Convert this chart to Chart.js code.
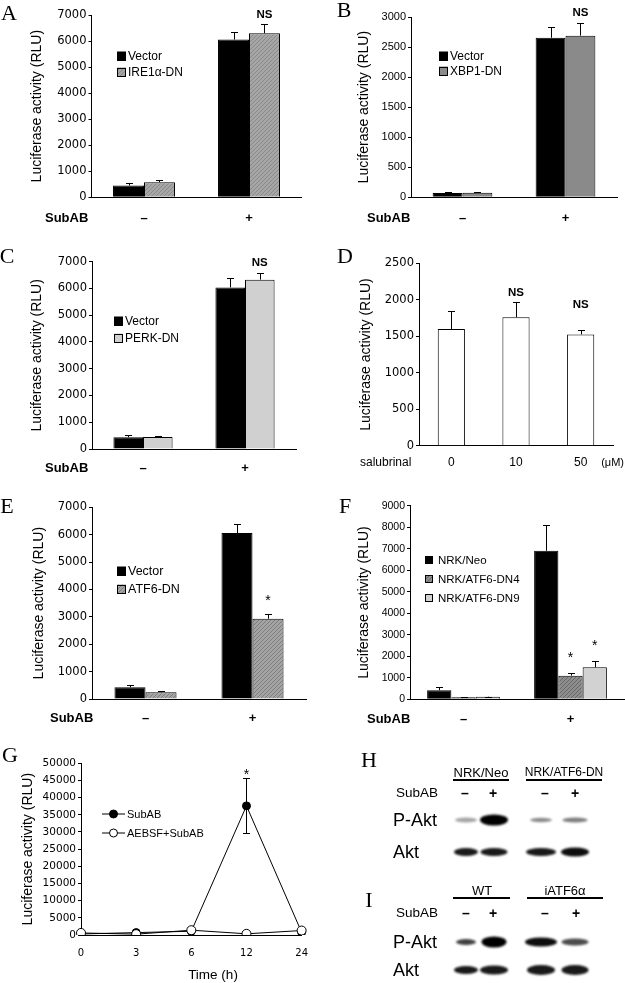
<!DOCTYPE html>
<html><head><meta charset="utf-8">
<script src="https://cdn.jsdelivr.net/npm/chart.js@4.4.1/dist/chart.umd.min.js"></script>
<style>
html,body{margin:0;padding:0;background:#fff;}
body{width:625px;height:983px;position:relative;overflow:hidden;font-family:"Liberation Sans",Arial,sans-serif;color:#000;}
canvas{position:absolute;display:block;}
.t{position:absolute;white-space:nowrap;line-height:1;transform:translate(-50%,-50%);}
.tl{position:absolute;white-space:nowrap;line-height:1;transform:translate(0,-50%);}
.ul{position:absolute;height:2px;background:#000;}
</style></head><body>
<script>
// ---------------- DATA ----------------
const subabCats = ['–', '+'];
const aVector = [450, 6060];   const aVectorErr = [90, 300];
const aIre1 = [580, 6300];     const aIre1Err = [90, 340];
const bVector = [70, 2655];    const bVectorErr = [15, 175];
const bXbp1 = [75, 2690];      const bXbp1Err = [15, 205];
const cVector = [440, 6040];   const cVectorErr = [100, 350];
const cPerk = [450, 6330];     const cPerkErr = [20, 260];
const dCats = ['0', '10', '50'];
const dSalubrinal = [1600, 1760, 1525]; const dSalubrinalErr = [240, 210, 65];
const eVector = [430, 6060];   const eVectorErr = [80, 320];
const eAtf6 = [250, 2930];     const eAtf6Err = [35, 185];
const fNeo = [420, 6905];      const fNeoErr = [160, 1195];
const fDn4 = [90, 1100];       const fDn4Err = [10, 110];
const fDn9 = [120, 1490];      const fDn9Err = [10, 305];
const gTimes = ['0', '3', '6', '12', '24'];
const gSubab = [300, 700, 1100, 37600, 800]; const gSubabErr = [0, 0, 0, 8000, 0];
const gAebsf = [600, 250, 1400, 350, 1300];
// blot band intensities (lanes: Neo/WT -, +, DN/iATF6 -, +)
const hPAkt = [0.35, 1.0, 0.45, 0.5];
const hAkt  = [0.9, 0.9, 0.9, 0.95];
const iPAkt = [0.75, 1.0, 0.95, 0.7];
const iAkt  = [0.9, 0.9, 0.9, 0.9];

// ---------------- HELPERS ----------------
const SANS = '"Liberation Sans", Arial, sans-serif';
const WIDE = '"DejaVu Sans", Verdana, sans-serif';
function hatch(bg, fg) {
  const c = document.createElement('canvas'); c.width = 4; c.height = 4;
  const x = c.getContext('2d'); x.fillStyle = bg; x.fillRect(0, 0, 4, 4);
  x.fillStyle = fg; for (let i = 0; i < 4; i++) x.fillRect(i, 3 - i, 1, 1);
  return x.createPattern(c, 'repeat');
}
const extras = new Map();

const errorBars = {
  id: 'errorBars',
  afterDatasetsDraw(chart) {
    const ctx = chart.ctx, ys = chart.scales.y;
    chart.data.datasets.forEach((ds, di) => {
      if (!ds.errUp) return;
      const meta = chart.getDatasetMeta(di);
      meta.data.forEach((el, j) => {
        const e = ds.errUp[j]; if (!e) return;
        const v = ds.data[j];
        const x = Math.round(el.x) + 0.5;
        const yT = Math.round(ys.getPixelForValue(v + e)) + 0.5;
        const yB = ds.errBoth ? Math.round(ys.getPixelForValue(v - e)) + 0.5 : ys.getPixelForValue(v);
        ctx.save(); ctx.strokeStyle = '#000'; ctx.lineWidth = 1;
        ctx.beginPath(); ctx.moveTo(x, yB); ctx.lineTo(x, yT);
        ctx.moveTo(x - 3.5, yT); ctx.lineTo(x + 3.5, yT);
        if (ds.errBoth) { ctx.moveTo(x - 3.5, yB); ctx.lineTo(x + 3.5, yB); }
        ctx.stroke(); ctx.restore();
      });
    });
  }
};

const overlay = {
  id: 'overlay',
  afterDraw(chart) {
    const ex = extras.get(chart.canvas); if (!ex) return;
    const ctx = chart.ctx, ox = ex.ox, oy = ex.oy;
    ctx.save(); ctx.fillStyle = '#000'; ctx.textBaseline = 'middle';
    (ex.texts || []).forEach(t => {
      ctx.font = t.font; ctx.textAlign = t.align || 'left';
      ctx.fillText(t.text, t.x - ox, t.y - oy);
    });
    (ex.marks || []).forEach(m => {
      const ds = chart.data.datasets[m.ds];
      const el = chart.getDatasetMeta(m.ds).data[m.i];
      const top = chart.scales.y.getPixelForValue(ds.data[m.i] + (ds.errUp ? ds.errUp[m.i] : 0));
      ctx.font = m.font; ctx.textAlign = 'center';
      ctx.fillText(m.text, el.x, top - m.dy);
    });
    if (ex.legend) {
      const L = ex.legend;
      chart.data.datasets.forEach((ds, i) => {
        const y = L.rows[i] - oy;
        ctx.fillStyle = ds.backgroundColor;
        ctx.fillRect(L.boxX - ox, y - L.box / 2, L.box, L.box);
        ctx.strokeStyle = '#000'; ctx.lineWidth = 1;
        ctx.strokeRect(L.boxX - ox + 0.5, Math.round(y - L.box / 2) + 0.5, L.box - 1, L.box - 1);
        ctx.fillStyle = '#000'; ctx.font = L.font; ctx.textAlign = 'left';
        ctx.fillText(ds.label, L.textX - ox, y + 0.5);
      });
    }
    if (ex.lineLegend) {
      const L = ex.lineLegend;
      chart.data.datasets.forEach((ds, i) => {
        const y = L.rows[i] - oy;
        ctx.strokeStyle = '#000'; ctx.lineWidth = 1;
        ctx.beginPath(); ctx.moveTo(L.x1 - ox, y); ctx.lineTo(L.x2 - ox, y); ctx.stroke();
        ctx.beginPath(); ctx.arc(L.mx - ox, y, 4, 0, Math.PI * 2);
        ctx.fillStyle = ds.pointBackgroundColor; ctx.fill(); ctx.stroke();
        ctx.fillStyle = '#000'; ctx.font = L.font; ctx.textAlign = 'left';
        ctx.fillText(ds.label, L.textX - ox, y + 0.5);
      });
    }
    ctx.restore();
  }
};

function mkPanel(cfg) {
  const {rect, area, titleX, type, labels, datasets, yMax, yStep} = cfg;
  const cv = document.createElement('canvas');
  cv.width = rect.w; cv.height = rect.h;
  cv.style.left = rect.x + 'px'; cv.style.top = rect.y + 'px';
  cv.style.width = rect.w + 'px'; cv.style.height = rect.h + 'px';
  document.body.appendChild(cv);
  const titleSize = cfg.titleSize || 14;
  const padL = titleX - rect.x - titleSize * 0.6;
  const padT = area.t - rect.y;
  const padR = rect.x + rect.w - area.r;
  const yW = area.l - rect.x - padL;
  const xH = rect.y + rect.h - area.b;
  extras.set(cv, Object.assign({ox: rect.x, oy: rect.y}, cfg.extra));
  return new Chart(cv, {
    type,
    data: {labels, datasets},
    options: {
      responsive: false, animation: false, devicePixelRatio: 1,
      events: [],
      layout: {padding: {left: padL, top: padT, right: padR, bottom: 0}},
      plugins: {legend: {display: false}, tooltip: {enabled: false}},
      scales: {
        x: {
          offset: cfg.offset,
          grid: {display: false, drawTicks: false},
          border: {display: true, color: '#000', width: 1},
          ticks: {color: '#000', font: cfg.xFont, padding: cfg.xPad, maxRotation: 0, autoSkip: false},
          afterFit: s => { s.height = xH; }
        },
        y: {
          min: 0, max: yMax,
          grid: {drawOnChartArea: false, drawTicks: true, tickLength: 3, color: '#000'},
          border: {display: true, color: '#000', width: 1},
          ticks: {stepSize: yStep, color: '#000', font: cfg.yFont, padding: 2, callback: v => String(v)},
          title: {display: true, text: 'Luciferase activity (RLU)', color: '#000', font: {family: SANS, size: titleSize}, padding: 0},
          afterFit: s => { s.width = yW; }
        }
      }
    },
    plugins: [errorBars, overlay]
  });
}

function bar(label, data, err, color, cp) {
  return {label, data, errUp: err, backgroundColor: color, borderColor: '#000', borderWidth: 1,
          barPercentage: 1, categoryPercentage: cp};
}
const pmFont = {family: SANS, size: 13, weight: 'bold'};
const wideTick = {family: WIDE, size: 11.5};
const narrowTick = {family: SANS, size: 11};
const subabFont = 'bold 13px ' + SANS;
const nsFont = 'bold 11.5px ' + SANS;
const starFont = '14px ' + SANS;

// ---------------- A ----------------
mkPanel({
  rect: {x: 0, y: 0, w: 310, h: 235}, area: {l: 91.5, t: 15, r: 301.5, b: 197.3}, titleX: 37,
  type: 'bar', labels: subabCats, yMax: 7000, yStep: 1000, offset: true,
  xFont: pmFont, xPad: 12.9, yFont: wideTick,
  datasets: [bar('Vector', aVector, aVectorErr, '#000', 0.59),
             bar('IRE1α-DN', aIre1, aIre1Err, hatch('#a6a6a6', '#8a8a8a'), 0.59)],
  extra: {
    texts: [{text: 'SubAB', x: 45, y: 218, font: subabFont}],
    marks: [{ds: 1, i: 1, text: 'NS', dy: 9.5, font: nsFont}],
    legend: {boxX: 117, textX: 128, box: 9, rows: [56, 72], font: '12px ' + SANS}
  }
});
// ---------------- B ----------------
mkPanel({
  rect: {x: 310, y: 0, w: 315, h: 235}, area: {l: 411, t: 17, r: 617, b: 197.3}, titleX: 364,
  type: 'bar', labels: subabCats, yMax: 3000, yStep: 500, offset: true,
  xFont: pmFont, xPad: 12.9, yFont: narrowTick,
  datasets: [bar('Vector', bVector, bVectorErr, '#000', 0.58),
             bar('XBP1-DN', bXbp1, bXbp1Err, '#8a8a8a', 0.58)],
  extra: {
    texts: [{text: 'SubAB', x: 367, y: 218, font: subabFont}],
    marks: [{ds: 1, i: 1, text: 'NS', dy: 10, font: nsFont}],
    legend: {boxX: 439, textX: 450, box: 9, rows: [56, 71], font: '12px ' + SANS}
  }
});
// ---------------- C ----------------
mkPanel({
  rect: {x: 0, y: 245, w: 310, h: 235}, area: {l: 92, t: 261.7, r: 296, b: 449}, titleX: 37,
  type: 'bar', labels: subabCats, yMax: 7000, yStep: 1000, offset: true,
  xFont: pmFont, xPad: 11.2, yFont: wideTick,
  datasets: [bar('Vector', cVector, cVectorErr, '#000', 0.58),
             bar('PERK-DN', cPerk, cPerkErr, '#d0d0d0', 0.58)],
  extra: {
    texts: [{text: 'SubAB', x: 45, y: 468, font: subabFont}],
    marks: [{ds: 1, i: 1, text: 'NS', dy: 9.5, font: nsFont}],
    legend: {boxX: 114, textX: 125, box: 9, rows: [321, 338], font: '12px ' + SANS}
  }
});
// ---------------- D ----------------
mkPanel({
  rect: {x: 310, y: 245, w: 315, h: 235}, area: {l: 419, t: 263.3, r: 613, b: 445.7}, titleX: 366,
  type: 'bar', labels: dCats, yMax: 2500, yStep: 500, offset: true,
  xFont: {family: SANS, size: 12}, xPad: 10.1, yFont: wideTick,
  datasets: [bar('salubrinal', dSalubrinal, dSalubrinalErr, '#fff', 0.42)],
  extra: {
    texts: [{text: 'salubrinal', x: 360, y: 463, font: '12px ' + SANS},
            {text: '(μM)', x: 624, y: 463, font: '11px ' + SANS, align: 'right'}],
    marks: [{ds: 0, i: 1, text: 'NS', dy: 9, font: nsFont},
            {ds: 0, i: 2, text: 'NS', dy: 25, font: nsFont}]
  }
});
// ---------------- E ----------------
mkPanel({
  rect: {x: 0, y: 495, w: 310, h: 240}, area: {l: 92, t: 507.3, r: 306, b: 699}, titleX: 39,
  type: 'bar', labels: subabCats, yMax: 7000, yStep: 1000, offset: true,
  xFont: pmFont, xPad: 11.2, yFont: wideTick,
  datasets: [bar('Vector', eVector, eVectorErr, '#000', 0.58),
             bar('ATF6-DN', eAtf6, eAtf6Err, hatch('#a4a4a4', '#7c7c7c'), 0.58)],
  extra: {
    texts: [{text: 'SubAB', x: 50, y: 718, font: subabFont}],
    marks: [{ds: 1, i: 1, text: '*', dy: 12.7, font: starFont}],
    legend: {boxX: 117, textX: 128, box: 9, rows: [571, 589], font: '12.5px ' + SANS}
  }
});
// ---------------- F ----------------
mkPanel({
  rect: {x: 310, y: 495, w: 315, h: 240}, area: {l: 410, t: 505.7, r: 624, b: 699.3}, titleX: 364,
  type: 'bar', labels: subabCats, yMax: 9000, yStep: 1000, offset: true,
  xFont: pmFont, xPad: 11.9, yFont: {family: SANS, size: 10.5},
  datasets: [bar('NRK/Neo', fNeo, fNeoErr, '#000', 0.68),
             bar('NRK/ATF6-DN4', fDn4, fDn4Err, hatch('#8e8e8e', '#666'), 0.68),
             bar('NRK/ATF6-DN9', fDn9, fDn9Err, '#d2d2d2', 0.68)],
  extra: {
    texts: [{text: 'SubAB', x: 367, y: 719, font: subabFont}],
    marks: [{ds: 1, i: 1, text: '*', dy: 15.5, font: starFont},
            {ds: 2, i: 1, text: '*', dy: 14.6, font: starFont}],
    legend: {boxX: 425, textX: 438, box: 8, rows: [560, 579, 598], font: '11.5px ' + SANS}
  }
});
// ---------------- G ----------------
mkPanel({
  rect: {x: 0, y: 740, w: 320, h: 243}, area: {l: 81, t: 763.3, r: 307, b: 935}, titleX: 28,
  type: 'line', labels: gTimes, yMax: 50000, yStep: 5000, offset: false,
  xFont: {family: WIDE, size: 10}, xPad: 12, yFont: {family: WIDE, size: 10.5},
  datasets: [
    {label: 'SubAB', data: gSubab, errUp: gSubabErr, errBoth: true, order: 2,
     borderColor: '#000', borderWidth: 1, tension: 0,
     pointRadius: 4, pointBackgroundColor: '#000', pointBorderColor: '#000', pointBorderWidth: 1},
    {label: 'AEBSF+SubAB', data: gAebsf, order: 1,
     borderColor: '#000', borderWidth: 1, tension: 0,
     pointRadius: 4.5, pointBackgroundColor: '#fff', pointBorderColor: '#000', pointBorderWidth: 1}
  ],
  extra: {
    texts: [{text: 'Time (h)', x: 213, y: 975, font: '13.5px ' + SANS, align: 'center'}],
    marks: [{ds: 0, i: 3, text: '*', dy: 3.3, font: starFont}],
    lineLegend: {x1: 102, x2: 125, mx: 113.5, textX: 127, rows: [814, 833], font: '11px ' + SANS}
  }
});

// ---------------- BLOTS (H, I) ----------------
(function () {
  const cv = document.createElement('canvas');
  cv.width = 315; cv.height = 243;
  cv.style.left = '310px'; cv.style.top = '740px';
  document.body.appendChild(cv);
  const ctx = cv.getContext('2d');
  const ox = 310, oy = 740;
  const lanes = [466, 494, 541, 575];
  function band(cx, cy, w, h, a) {
    ctx.save();
    ctx.filter = 'blur(1.3px)';
    ctx.fillStyle = 'rgba(0,0,0,' + a + ')';
    ctx.beginPath();
    ctx.ellipse(cx - ox, cy - oy, w / 2, h / 2, 0, 0, Math.PI * 2);
    ctx.fill();
    ctx.restore();
  }
  const rows = [
    {y: 820, v: hPAkt, w: [22, 28, 22, 25], h: [5, 11, 4.5, 5]},
    {y: 852, v: hAkt,  w: [24, 27, 30, 28], h: [8, 8, 8, 9]},
    {y: 942, v: iPAkt, w: [20, 25, 32, 27], h: [6, 11, 9, 7]},
    {y: 970, v: iAkt,  w: [24, 28, 28, 27], h: [8, 9, 10, 10]}
  ];
  rows.forEach(r => r.v.forEach((a, k) => band(lanes[k], r.y, r.w[k], r.h[k], a)));
})();

// ---------------- HTML TEXT ----------------
function txt(s, x, y, css, cls) {
  const d = document.createElement('div');
  d.className = cls || 't'; d.textContent = s;
  d.style.left = x + 'px'; d.style.top = y + 'px';
  d.style.cssText += css || '';
  document.body.appendChild(d);
}
function uline(x1, x2, y) {
  const d = document.createElement('div'); d.className = 'ul';
  d.style.left = x1 + 'px'; d.style.top = (y - 1) + 'px'; d.style.width = (x2 - x1) + 'px';
  document.body.appendChild(d);
}
const L = 'font-family:"Liberation Serif","Times New Roman",serif;font-size:22px;';
txt('A', 9, 13, L); txt('B', 344, 10, L); txt('C', 7, 256, L); txt('D', 345, 256, L);
txt('E', 7, 506, L); txt('F', 345, 506, L); txt('G', 10, 755, L); txt('H', 369, 760, L); txt('I', 369, 900, L);

txt('NRK/Neo', 481, 772, 'font-size:13px;');
uline(453, 509, 780);
txt('NRK/ATF6-DN', 564, 772, 'font-size:12px;');
uline(526, 602, 780);
txt('SubAB', 417, 793, 'font-size:13.5px;');
txt('–', 465, 793, 'font-size:14px;font-weight:bold;'); txt('+', 493, 793, 'font-size:14px;font-weight:bold;');
txt('–', 545, 793, 'font-size:14px;font-weight:bold;'); txt('+', 575, 793, 'font-size:14px;font-weight:bold;');
txt('P-Akt', 393, 820, 'font-size:18px;', 'tl');
txt('Akt', 393, 852, 'font-size:18px;', 'tl');

txt('WT', 482, 890, 'font-size:13px;');
uline(453, 510, 898);
txt('iATF6α', 565, 890, 'font-size:13px;');
uline(527, 603, 898);
txt('SubAB', 417, 913, 'font-size:13.5px;');
txt('–', 466, 913, 'font-size:14px;font-weight:bold;'); txt('+', 493, 913, 'font-size:14px;font-weight:bold;');
txt('–', 545, 913, 'font-size:14px;font-weight:bold;'); txt('+', 576, 913, 'font-size:14px;font-weight:bold;');
txt('P-Akt', 393, 942, 'font-size:18px;', 'tl');
txt('Akt', 393, 970, 'font-size:18px;', 'tl');
</script>
</body></html>
